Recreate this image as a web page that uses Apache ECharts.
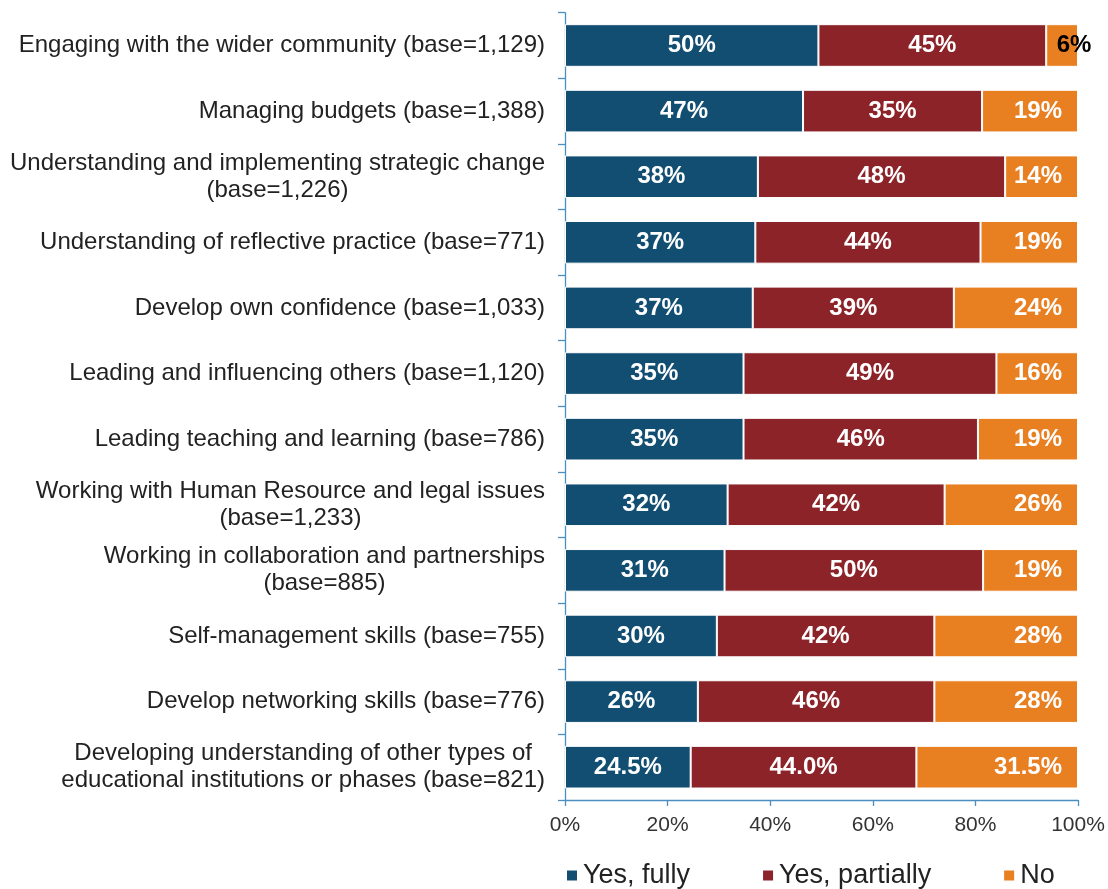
<!DOCTYPE html>
<html>
<head>
<meta charset="utf-8">
<script src="https://cdn.jsdelivr.net/npm/echarts@6/dist/echarts.min.js"></script>
<style>
  html, body { margin: 0; padding: 0; background: #fff; }
  #chart { width: 1108px; height: 889px; }
</style>
</head>
<body>
<div id="chart"></div>
<script>
const categories = [
  'Engaging with the wider community (base=1,129)',
  'Managing budgets (base=1,388)',
  'Understanding and implementing strategic change\n(base=1,226)',
  'Understanding of reflective practice (base=771)',
  'Develop own confidence (base=1,033)',
  'Leading and influencing others (base=1,120)',
  'Leading teaching and learning (base=786)',
  'Working with Human Resource and legal issues\n(base=1,233)',
  'Working in collaboration and partnerships\n(base=885)',
  'Self-management skills (base=755)',
  'Develop networking skills (base=776)',
  'Developing understanding of other types of\neducational institutions or phases (base=821)'
];
const seriesNames = ['Yes, fully', 'Yes, partially', 'No'];
const yesFully     = [49.4, 46.4, 37.6, 37.1, 36.6, 34.8, 34.8, 31.7, 31.1, 29.6, 25.9, 24.5];
const yesPartially = [44.4, 34.9, 48.2, 43.9, 39.2, 49.3, 45.7, 42.3, 50.4, 42.4, 46.1, 44.0];
const noValues     = [6.2, 18.7, 14.2, 19.0, 24.2, 15.9, 19.5, 26.0, 18.5, 28.0, 28.0, 31.5];
const yesFullyLabels     = ['50%','47%','38%','37%','37%','35%','35%','32%','31%','30%','26%','24.5%'];
const yesPartiallyLabels = ['45%','35%','48%','44%','39%','49%','46%','42%','50%','42%','46%','44.0%'];
const noLabels           = ['6%','19%','14%','19%','24%','16%','19%','26%','19%','28%','28%','31.5%'];
const xTicks = [0, 20, 40, 60, 80, 100];

const FONT = '"Liberation Sans", Arial, sans-serif';
const AXIS_COLOR = '#4A8FBF';
const colors = ['#124E72', '#8B2329', '#E87F21'];

const chart = echarts.init(document.getElementById('chart'), null, { renderer: 'canvas' });

function labelStyle() {
  return { show: true, color: '#fff', fontWeight: 'bold', fontSize: 24, fontFamily: FONT };
}

const noData = noValues.map((v, i) => {
  if (i === 0) {
    return { value: v, label: { position: 'inside', offset: [12, 0], color: '#000', distance: 0 } };
  }
  return v;
});

const option = {
  animation: false,
  backgroundColor: '#fff',
  textStyle: { fontFamily: FONT },
  grid: { left: 565, right: 30, top: 12.7, bottom: 89, containLabel: false },
  legend: {
    data: seriesNames,
    left: 560,
    top: 857,
    itemWidth: 12,
    itemHeight: 12,
    itemGap: 71,
    icon: 'rect',
    textStyle: { fontSize: 27, color: '#222', fontFamily: FONT }
  },
  xAxis: {
    type: 'value',
    min: xTicks[0],
    max: xTicks[xTicks.length - 1],
    interval: 20,
    splitLine: { show: false },
    axisLine: { show: true, lineStyle: { color: AXIS_COLOR, width: 1.3 } },
    axisTick: { show: true, inside: false, length: 6, lineStyle: { color: AXIS_COLOR, width: 1.3 } },
    axisLabel: { formatter: '{value}%', fontSize: 21, color: '#333', margin: 15, fontFamily: FONT }
  },
  yAxis: {
    type: 'category',
    inverse: true,
    data: categories,
    axisLine: { show: true, lineStyle: { color: AXIS_COLOR, width: 1.3 } },
    axisTick: { show: true, inside: false, length: 7, lineStyle: { color: AXIS_COLOR, width: 1.3 } },
    axisLabel: {
      align: 'right',
      margin: 20,
      fontSize: 24,
      lineHeight: 27,
      color: '#222',
      fontFamily: FONT,
      formatter: function (val) {
        return val.split('\n').map(s => '{c|' + s + '}').join('\n');
      },
      rich: { c: { align: 'center', fontSize: 24, lineHeight: 27, color: '#222', fontFamily: FONT } }
    }
  },
  series: [
    {
      name: seriesNames[0], type: 'bar', stack: 'total', barCategoryGap: '35%',
      data: yesFully,
      itemStyle: { color: colors[0], borderColor: '#fff', borderWidth: 1 },
      label: Object.assign(labelStyle(), { position: 'inside', formatter: p => yesFullyLabels[p.dataIndex] })
    },
    {
      name: seriesNames[1], type: 'bar', stack: 'total', barCategoryGap: '35%',
      data: yesPartially,
      itemStyle: { color: colors[1], borderColor: '#fff', borderWidth: 1 },
      label: Object.assign(labelStyle(), { position: 'inside', formatter: p => yesPartiallyLabels[p.dataIndex] })
    },
    {
      name: seriesNames[2], type: 'bar', stack: 'total', barCategoryGap: '35%',
      data: noData,
      itemStyle: { color: colors[2], borderColor: '#fff', borderWidth: 1 },
      label: Object.assign(labelStyle(), { position: 'insideRight', distance: 16, formatter: p => noLabels[p.dataIndex] })
    }
  ]
};
chart.setOption(option);
</script>
</body>
</html>
